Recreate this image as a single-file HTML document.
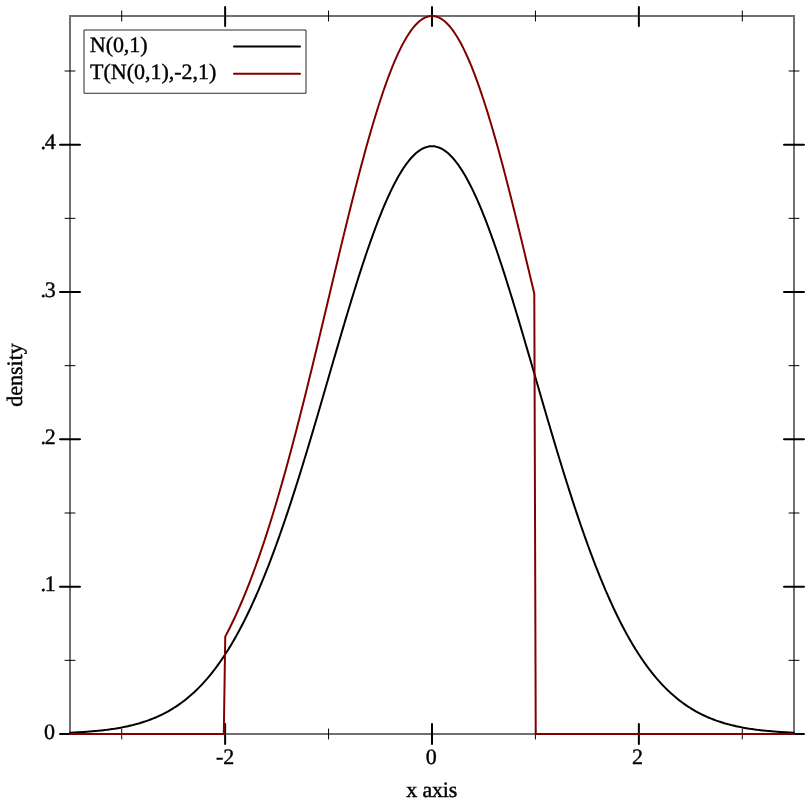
<!DOCTYPE html>
<html><head><meta charset="utf-8"><title>plot</title>
<style>html,body{margin:0;padding:0;background:#fff}svg{display:block}text{font-family:"Liberation Serif","Times New Roman",Times,serif;font-size:22px;fill:#000;text-rendering:geometricPrecision;stroke:#000;stroke-width:0.4px}</style></head><body>
<svg width="812" height="812" viewBox="0 0 812 812">
<rect width="812" height="812" fill="#fff"/>
<defs><clipPath id="c"><rect x="69" y="14" width="726.2" height="721.2"/></clipPath></defs>
<rect x="70" y="16" width="724" height="718" fill="none" stroke="#707070" stroke-width="2"/>
<path d="M225.14 7.00V26.00M225.14 724.00V744.00M432.00 7.00V26.00M432.00 724.00V744.00M638.86 7.00V26.00M638.86 724.00V744.00M60.00 734.00H80.00M784.00 734.00H804.00M60.00 586.67H80.00M784.00 586.67H804.00M60.00 439.34H80.00M784.00 439.34H804.00M60.00 292.01H80.00M784.00 292.01H804.00M60.00 144.68H80.00M784.00 144.68H804.00" stroke="#000" stroke-width="2" stroke-linecap="round" fill="none"/>
<path d="M121.71 11.00V21.00M121.71 729.00V739.00M328.57 11.00V21.00M328.57 729.00V739.00M535.43 11.00V21.00M535.43 729.00V739.00M742.29 11.00V21.00M742.29 729.00V739.00M65.00 660.33H75.00M789.00 660.33H799.00M65.00 513.00H75.00M789.00 513.00H799.00M65.00 365.67H75.00M789.00 365.67H799.00M65.00 218.34H75.00M789.00 218.34H799.00M65.00 71.01H75.00M789.00 71.01H799.00" stroke="#000" stroke-width="1" stroke-linecap="round" fill="none"/>
<text x="225.14" y="763.7" text-anchor="middle">-2</text>
<text x="431.30" y="763.7" text-anchor="middle">0</text>
<text x="637.46" y="763.7" text-anchor="middle">2</text>
<text x="54.9" y="738.50" text-anchor="end">0</text>
<text x="55.8" y="591.17" text-anchor="end" textLength="15.2" lengthAdjust="spacing">.1</text>
<text x="55.8" y="443.84" text-anchor="end" textLength="15.2" lengthAdjust="spacing">.2</text>
<text x="55.8" y="296.51" text-anchor="end" textLength="15.2" lengthAdjust="spacing">.3</text>
<text x="55.8" y="149.18" text-anchor="end" textLength="15.2" lengthAdjust="spacing">.4</text>
<text x="431.8" y="796.5" text-anchor="middle" textLength="51.2" lengthAdjust="spacing">x axis</text>
<text transform="translate(22.4 375) rotate(-90)" text-anchor="middle">density</text>
<g clip-path="url(#c)" fill="none" stroke-width="2" stroke-linejoin="round" stroke-linecap="round">
<path d="M70.00 732.71 L71.45 732.65 L72.90 732.58 L74.35 732.51 L75.80 732.44 L77.25 732.36 L78.71 732.28 L80.16 732.20 L81.61 732.11 L83.06 732.02 L84.51 731.92 L85.96 731.82 L87.41 731.72 L88.86 731.61 L90.31 731.49 L91.76 731.37 L93.21 731.25 L94.67 731.12 L96.12 730.99 L97.57 730.85 L99.02 730.70 L100.47 730.55 L101.92 730.39 L103.37 730.22 L104.82 730.05 L106.27 729.87 L107.72 729.69 L109.17 729.49 L110.63 729.29 L112.08 729.08 L113.53 728.87 L114.98 728.64 L116.43 728.41 L117.88 728.16 L119.33 727.91 L120.78 727.65 L122.23 727.37 L123.68 727.09 L125.13 726.79 L126.59 726.49 L128.04 726.17 L129.49 725.84 L130.94 725.50 L132.39 725.15 L133.84 724.78 L135.29 724.40 L136.74 724.01 L138.19 723.60 L139.64 723.18 L141.09 722.74 L142.55 722.29 L144.00 721.82 L145.45 721.34 L146.90 720.84 L148.35 720.32 L149.80 719.79 L151.25 719.23 L152.70 718.66 L154.15 718.07 L155.60 717.46 L157.05 716.83 L158.51 716.18 L159.96 715.51 L161.41 714.82 L162.86 714.10 L164.31 713.36 L165.76 712.60 L167.21 711.82 L168.66 711.01 L170.11 710.18 L171.56 709.32 L173.01 708.43 L174.46 707.52 L175.92 706.58 L177.37 705.62 L178.82 704.62 L180.27 703.60 L181.72 702.55 L183.17 701.46 L184.62 700.35 L186.07 699.21 L187.52 698.03 L188.97 696.82 L190.42 695.58 L191.88 694.30 L193.33 692.99 L194.78 691.65 L196.23 690.27 L197.68 688.85 L199.13 687.40 L200.58 685.90 L202.03 684.38 L203.48 682.81 L204.93 681.20 L206.38 679.56 L207.84 677.87 L209.29 676.14 L210.74 674.38 L212.19 672.56 L213.64 670.71 L215.09 668.82 L216.54 666.88 L217.99 664.89 L219.44 662.86 L220.89 660.79 L222.34 658.67 L223.80 656.51 L225.25 654.30 L226.70 652.04 L228.15 649.73 L229.60 647.38 L231.05 644.97 L232.50 642.52 L233.95 640.02 L235.40 637.47 L236.85 634.88 L238.30 632.23 L239.76 629.53 L241.21 626.78 L242.66 623.98 L244.11 621.13 L245.56 618.23 L247.01 615.27 L248.46 612.27 L249.91 609.21 L251.36 606.11 L252.81 602.95 L254.26 599.74 L255.72 596.47 L257.17 593.16 L258.62 589.79 L260.07 586.38 L261.52 582.91 L262.97 579.39 L264.42 575.82 L265.87 572.20 L267.32 568.53 L268.77 564.81 L270.22 561.04 L271.68 557.22 L273.13 553.35 L274.58 549.43 L276.03 545.47 L277.48 541.46 L278.93 537.40 L280.38 533.29 L281.83 529.14 L283.28 524.95 L284.73 520.71 L286.18 516.43 L287.64 512.10 L289.09 507.74 L290.54 503.33 L291.99 498.89 L293.44 494.40 L294.89 489.88 L296.34 485.32 L297.79 480.73 L299.24 476.10 L300.69 471.44 L302.14 466.75 L303.60 462.03 L305.05 457.28 L306.50 452.50 L307.95 447.70 L309.40 442.87 L310.85 438.02 L312.30 433.14 L313.75 428.25 L315.20 423.33 L316.65 418.41 L318.10 413.46 L319.56 408.50 L321.01 403.53 L322.46 398.55 L323.91 393.57 L325.36 388.57 L326.81 383.57 L328.26 378.57 L329.71 373.57 L331.16 368.57 L332.61 363.58 L334.06 358.59 L335.52 353.61 L336.97 348.63 L338.42 343.67 L339.87 338.72 L341.32 333.79 L342.77 328.88 L344.22 323.99 L345.67 319.12 L347.12 314.27 L348.57 309.46 L350.02 304.67 L351.47 299.91 L352.93 295.19 L354.38 290.50 L355.83 285.85 L357.28 281.24 L358.73 276.67 L360.18 272.15 L361.63 267.68 L363.08 263.25 L364.53 258.88 L365.98 254.55 L367.43 250.29 L368.89 246.08 L370.34 241.94 L371.79 237.85 L373.24 233.83 L374.69 229.88 L376.14 226.00 L377.59 222.19 L379.04 218.45 L380.49 214.78 L381.94 211.19 L383.39 207.68 L384.85 204.25 L386.30 200.91 L387.75 197.64 L389.20 194.47 L390.65 191.38 L392.10 188.38 L393.55 185.48 L395.00 182.66 L396.45 179.94 L397.90 177.32 L399.35 174.79 L400.81 172.37 L402.26 170.04 L403.71 167.82 L405.16 165.70 L406.61 163.68 L408.06 161.77 L409.51 159.97 L410.96 158.27 L412.41 156.68 L413.86 155.20 L415.31 153.83 L416.77 152.58 L418.22 151.43 L419.67 150.40 L421.12 149.48 L422.57 148.67 L424.02 147.98 L425.47 147.40 L426.92 146.94 L428.37 146.60 L429.82 146.36 L431.27 146.25 L432.73 146.25 L434.18 146.36 L435.63 146.60 L437.08 146.94 L438.53 147.40 L439.98 147.98 L441.43 148.67 L442.88 149.48 L444.33 150.40 L445.78 151.43 L447.23 152.58 L448.69 153.83 L450.14 155.20 L451.59 156.68 L453.04 158.27 L454.49 159.97 L455.94 161.77 L457.39 163.68 L458.84 165.70 L460.29 167.82 L461.74 170.04 L463.19 172.37 L464.65 174.79 L466.10 177.32 L467.55 179.94 L469.00 182.66 L470.45 185.48 L471.90 188.38 L473.35 191.38 L474.80 194.47 L476.25 197.64 L477.70 200.91 L479.15 204.25 L480.61 207.68 L482.06 211.19 L483.51 214.78 L484.96 218.45 L486.41 222.19 L487.86 226.00 L489.31 229.88 L490.76 233.83 L492.21 237.85 L493.66 241.94 L495.11 246.08 L496.57 250.29 L498.02 254.55 L499.47 258.88 L500.92 263.25 L502.37 267.68 L503.82 272.15 L505.27 276.67 L506.72 281.24 L508.17 285.85 L509.62 290.50 L511.07 295.19 L512.53 299.91 L513.98 304.67 L515.43 309.46 L516.88 314.27 L518.33 319.12 L519.78 323.99 L521.23 328.88 L522.68 333.79 L524.13 338.72 L525.58 343.67 L527.03 348.63 L528.48 353.61 L529.94 358.59 L531.39 363.58 L532.84 368.57 L534.29 373.57 L535.74 378.57 L537.19 383.57 L538.64 388.57 L540.09 393.57 L541.54 398.55 L542.99 403.53 L544.44 408.50 L545.90 413.46 L547.35 418.41 L548.80 423.33 L550.25 428.25 L551.70 433.14 L553.15 438.02 L554.60 442.87 L556.05 447.70 L557.50 452.50 L558.95 457.28 L560.40 462.03 L561.86 466.75 L563.31 471.44 L564.76 476.10 L566.21 480.73 L567.66 485.32 L569.11 489.88 L570.56 494.40 L572.01 498.89 L573.46 503.33 L574.91 507.74 L576.36 512.10 L577.82 516.43 L579.27 520.71 L580.72 524.95 L582.17 529.14 L583.62 533.29 L585.07 537.40 L586.52 541.46 L587.97 545.47 L589.42 549.43 L590.87 553.35 L592.32 557.22 L593.78 561.04 L595.23 564.81 L596.68 568.53 L598.13 572.20 L599.58 575.82 L601.03 579.39 L602.48 582.91 L603.93 586.38 L605.38 589.79 L606.83 593.16 L608.28 596.47 L609.74 599.74 L611.19 602.95 L612.64 606.11 L614.09 609.21 L615.54 612.27 L616.99 615.27 L618.44 618.23 L619.89 621.13 L621.34 623.98 L622.79 626.78 L624.24 629.53 L625.70 632.23 L627.15 634.88 L628.60 637.47 L630.05 640.02 L631.50 642.52 L632.95 644.97 L634.40 647.38 L635.85 649.73 L637.30 652.04 L638.75 654.30 L640.20 656.51 L641.66 658.67 L643.11 660.79 L644.56 662.86 L646.01 664.89 L647.46 666.88 L648.91 668.82 L650.36 670.71 L651.81 672.56 L653.26 674.38 L654.71 676.14 L656.16 677.87 L657.62 679.56 L659.07 681.20 L660.52 682.81 L661.97 684.38 L663.42 685.90 L664.87 687.40 L666.32 688.85 L667.77 690.27 L669.22 691.65 L670.67 692.99 L672.12 694.30 L673.58 695.58 L675.03 696.82 L676.48 698.03 L677.93 699.21 L679.38 700.35 L680.83 701.46 L682.28 702.55 L683.73 703.60 L685.18 704.62 L686.63 705.62 L688.08 706.58 L689.54 707.52 L690.99 708.43 L692.44 709.32 L693.89 710.18 L695.34 711.01 L696.79 711.82 L698.24 712.60 L699.69 713.36 L701.14 714.10 L702.59 714.82 L704.04 715.51 L705.49 716.18 L706.95 716.83 L708.40 717.46 L709.85 718.07 L711.30 718.66 L712.75 719.23 L714.20 719.79 L715.65 720.32 L717.10 720.84 L718.55 721.34 L720.00 721.82 L721.45 722.29 L722.91 722.74 L724.36 723.18 L725.81 723.60 L727.26 724.01 L728.71 724.40 L730.16 724.78 L731.61 725.15 L733.06 725.50 L734.51 725.84 L735.96 726.17 L737.41 726.49 L738.87 726.79 L740.32 727.09 L741.77 727.37 L743.22 727.65 L744.67 727.91 L746.12 728.16 L747.57 728.41 L749.02 728.64 L750.47 728.87 L751.92 729.08 L753.37 729.29 L754.83 729.49 L756.28 729.69 L757.73 729.87 L759.18 730.05 L760.63 730.22 L762.08 730.39 L763.53 730.55 L764.98 730.70 L766.43 730.85 L767.88 730.99 L769.33 731.12 L770.79 731.25 L772.24 731.37 L773.69 731.49 L775.14 731.61 L776.59 731.72 L778.04 731.82 L779.49 731.92 L780.94 732.02 L782.39 732.11 L783.84 732.20 L785.29 732.28 L786.75 732.36 L788.20 732.44 L789.65 732.51 L791.10 732.58 L792.55 732.65 L794.00 732.71" stroke="#000"/>
<path d="M70.00 734.00 L71.45 734.00 L72.90 734.00 L74.35 734.00 L75.80 734.00 L77.25 734.00 L78.71 734.00 L80.16 734.00 L81.61 734.00 L83.06 734.00 L84.51 734.00 L85.96 734.00 L87.41 734.00 L88.86 734.00 L90.31 734.00 L91.76 734.00 L93.21 734.00 L94.67 734.00 L96.12 734.00 L97.57 734.00 L99.02 734.00 L100.47 734.00 L101.92 734.00 L103.37 734.00 L104.82 734.00 L106.27 734.00 L107.72 734.00 L109.17 734.00 L110.63 734.00 L112.08 734.00 L113.53 734.00 L114.98 734.00 L116.43 734.00 L117.88 734.00 L119.33 734.00 L120.78 734.00 L122.23 734.00 L123.68 734.00 L125.13 734.00 L126.59 734.00 L128.04 734.00 L129.49 734.00 L130.94 734.00 L132.39 734.00 L133.84 734.00 L135.29 734.00 L136.74 734.00 L138.19 734.00 L139.64 734.00 L141.09 734.00 L142.55 734.00 L144.00 734.00 L145.45 734.00 L146.90 734.00 L148.35 734.00 L149.80 734.00 L151.25 734.00 L152.70 734.00 L154.15 734.00 L155.60 734.00 L157.05 734.00 L158.51 734.00 L159.96 734.00 L161.41 734.00 L162.86 734.00 L164.31 734.00 L165.76 734.00 L167.21 734.00 L168.66 734.00 L170.11 734.00 L171.56 734.00 L173.01 734.00 L174.46 734.00 L175.92 734.00 L177.37 734.00 L178.82 734.00 L180.27 734.00 L181.72 734.00 L183.17 734.00 L184.62 734.00 L186.07 734.00 L187.52 734.00 L188.97 734.00 L190.42 734.00 L191.88 734.00 L193.33 734.00 L194.78 734.00 L196.23 734.00 L197.68 734.00 L199.13 734.00 L200.58 734.00 L202.03 734.00 L203.48 734.00 L204.93 734.00 L206.38 734.00 L207.84 734.00 L209.29 734.00 L210.74 734.00 L212.19 734.00 L213.64 734.00 L215.09 734.00 L216.54 734.00 L217.99 734.00 L219.44 734.00 L220.89 734.00 L222.34 734.00 L223.80 734.00 L225.25 636.63 L226.70 633.87 L228.15 631.06 L229.60 628.18 L231.05 625.25 L232.50 622.25 L233.95 619.20 L235.40 616.08 L236.85 612.91 L238.30 609.67 L239.76 606.38 L241.21 603.02 L242.66 599.60 L244.11 596.12 L245.56 592.57 L247.01 588.96 L248.46 585.29 L249.91 581.56 L251.36 577.76 L252.81 573.90 L254.26 569.98 L255.72 566.00 L257.17 561.95 L258.62 557.84 L260.07 553.66 L261.52 549.43 L262.97 545.13 L264.42 540.77 L265.87 536.34 L267.32 531.86 L268.77 527.31 L270.22 522.71 L271.68 518.04 L273.13 513.32 L274.58 508.53 L276.03 503.69 L277.48 498.79 L278.93 493.83 L280.38 488.81 L281.83 483.74 L283.28 478.62 L284.73 473.44 L286.18 468.21 L287.64 462.93 L289.09 457.60 L290.54 452.22 L291.99 446.78 L293.44 441.31 L294.89 435.78 L296.34 430.22 L297.79 424.61 L299.24 418.95 L300.69 413.26 L302.14 407.53 L303.60 401.76 L305.05 395.96 L306.50 390.12 L307.95 384.25 L309.40 378.35 L310.85 372.42 L312.30 366.47 L313.75 360.49 L315.20 354.49 L316.65 348.47 L318.10 342.43 L319.56 336.37 L321.01 330.30 L322.46 324.22 L323.91 318.12 L325.36 312.02 L326.81 305.92 L328.26 299.81 L329.71 293.70 L331.16 287.59 L332.61 281.49 L334.06 275.39 L335.52 269.31 L336.97 263.23 L338.42 257.17 L339.87 251.13 L341.32 245.11 L342.77 239.10 L344.22 233.13 L345.67 227.18 L347.12 221.26 L348.57 215.37 L350.02 209.52 L351.47 203.71 L352.93 197.94 L354.38 192.22 L355.83 186.54 L357.28 180.90 L358.73 175.33 L360.18 169.80 L361.63 164.33 L363.08 158.93 L364.53 153.58 L365.98 148.31 L367.43 143.10 L368.89 137.96 L370.34 132.89 L371.79 127.91 L373.24 123.00 L374.69 118.17 L376.14 113.42 L377.59 108.76 L379.04 104.20 L380.49 99.72 L381.94 95.33 L383.39 91.05 L384.85 86.86 L386.30 82.77 L387.75 78.78 L389.20 74.91 L390.65 71.13 L392.10 67.47 L393.55 63.92 L395.00 60.48 L396.45 57.16 L397.90 53.96 L399.35 50.87 L400.81 47.91 L402.26 45.07 L403.71 42.35 L405.16 39.76 L406.61 37.30 L408.06 34.96 L409.51 32.76 L410.96 30.68 L412.41 28.74 L413.86 26.94 L415.31 25.27 L416.77 23.73 L418.22 22.33 L419.67 21.07 L421.12 19.95 L422.57 18.96 L424.02 18.12 L425.47 17.41 L426.92 16.85 L428.37 16.42 L429.82 16.14 L431.27 16.00 L432.73 16.00 L434.18 16.14 L435.63 16.42 L437.08 16.85 L438.53 17.41 L439.98 18.12 L441.43 18.96 L442.88 19.95 L444.33 21.07 L445.78 22.33 L447.23 23.73 L448.69 25.27 L450.14 26.94 L451.59 28.74 L453.04 30.68 L454.49 32.76 L455.94 34.96 L457.39 37.30 L458.84 39.76 L460.29 42.35 L461.74 45.07 L463.19 47.91 L464.65 50.87 L466.10 53.96 L467.55 57.16 L469.00 60.48 L470.45 63.92 L471.90 67.47 L473.35 71.13 L474.80 74.91 L476.25 78.78 L477.70 82.77 L479.15 86.86 L480.61 91.05 L482.06 95.33 L483.51 99.72 L484.96 104.20 L486.41 108.76 L487.86 113.42 L489.31 118.17 L490.76 123.00 L492.21 127.91 L493.66 132.89 L495.11 137.96 L496.57 143.10 L498.02 148.31 L499.47 153.58 L500.92 158.93 L502.37 164.33 L503.82 169.80 L505.27 175.33 L506.72 180.90 L508.17 186.54 L509.62 192.22 L511.07 197.94 L512.53 203.71 L513.98 209.52 L515.43 215.37 L516.88 221.26 L518.33 227.18 L519.78 233.13 L521.23 239.10 L522.68 245.11 L524.13 251.13 L525.58 257.17 L527.03 263.23 L528.48 269.31 L529.94 275.39 L531.39 281.49 L532.84 287.59 L534.29 293.70 L535.74 734.00 L537.19 734.00 L538.64 734.00 L540.09 734.00 L541.54 734.00 L542.99 734.00 L544.44 734.00 L545.90 734.00 L547.35 734.00 L548.80 734.00 L550.25 734.00 L551.70 734.00 L553.15 734.00 L554.60 734.00 L556.05 734.00 L557.50 734.00 L558.95 734.00 L560.40 734.00 L561.86 734.00 L563.31 734.00 L564.76 734.00 L566.21 734.00 L567.66 734.00 L569.11 734.00 L570.56 734.00 L572.01 734.00 L573.46 734.00 L574.91 734.00 L576.36 734.00 L577.82 734.00 L579.27 734.00 L580.72 734.00 L582.17 734.00 L583.62 734.00 L585.07 734.00 L586.52 734.00 L587.97 734.00 L589.42 734.00 L590.87 734.00 L592.32 734.00 L593.78 734.00 L595.23 734.00 L596.68 734.00 L598.13 734.00 L599.58 734.00 L601.03 734.00 L602.48 734.00 L603.93 734.00 L605.38 734.00 L606.83 734.00 L608.28 734.00 L609.74 734.00 L611.19 734.00 L612.64 734.00 L614.09 734.00 L615.54 734.00 L616.99 734.00 L618.44 734.00 L619.89 734.00 L621.34 734.00 L622.79 734.00 L624.24 734.00 L625.70 734.00 L627.15 734.00 L628.60 734.00 L630.05 734.00 L631.50 734.00 L632.95 734.00 L634.40 734.00 L635.85 734.00 L637.30 734.00 L638.75 734.00 L640.20 734.00 L641.66 734.00 L643.11 734.00 L644.56 734.00 L646.01 734.00 L647.46 734.00 L648.91 734.00 L650.36 734.00 L651.81 734.00 L653.26 734.00 L654.71 734.00 L656.16 734.00 L657.62 734.00 L659.07 734.00 L660.52 734.00 L661.97 734.00 L663.42 734.00 L664.87 734.00 L666.32 734.00 L667.77 734.00 L669.22 734.00 L670.67 734.00 L672.12 734.00 L673.58 734.00 L675.03 734.00 L676.48 734.00 L677.93 734.00 L679.38 734.00 L680.83 734.00 L682.28 734.00 L683.73 734.00 L685.18 734.00 L686.63 734.00 L688.08 734.00 L689.54 734.00 L690.99 734.00 L692.44 734.00 L693.89 734.00 L695.34 734.00 L696.79 734.00 L698.24 734.00 L699.69 734.00 L701.14 734.00 L702.59 734.00 L704.04 734.00 L705.49 734.00 L706.95 734.00 L708.40 734.00 L709.85 734.00 L711.30 734.00 L712.75 734.00 L714.20 734.00 L715.65 734.00 L717.10 734.00 L718.55 734.00 L720.00 734.00 L721.45 734.00 L722.91 734.00 L724.36 734.00 L725.81 734.00 L727.26 734.00 L728.71 734.00 L730.16 734.00 L731.61 734.00 L733.06 734.00 L734.51 734.00 L735.96 734.00 L737.41 734.00 L738.87 734.00 L740.32 734.00 L741.77 734.00 L743.22 734.00 L744.67 734.00 L746.12 734.00 L747.57 734.00 L749.02 734.00 L750.47 734.00 L751.92 734.00 L753.37 734.00 L754.83 734.00 L756.28 734.00 L757.73 734.00 L759.18 734.00 L760.63 734.00 L762.08 734.00 L763.53 734.00 L764.98 734.00 L766.43 734.00 L767.88 734.00 L769.33 734.00 L770.79 734.00 L772.24 734.00 L773.69 734.00 L775.14 734.00 L776.59 734.00 L778.04 734.00 L779.49 734.00 L780.94 734.00 L782.39 734.00 L783.84 734.00 L785.29 734.00 L786.75 734.00 L788.20 734.00 L789.65 734.00 L791.10 734.00 L792.55 734.00 L794.00 734.00" stroke="#800000"/>
</g>
<rect x="84" y="30" width="222" height="63.25" fill="#fff" stroke="#000" stroke-opacity="0.83" stroke-width="1" stroke-linejoin="round"/>
<text x="89.8" y="51.7" textLength="57.8" lengthAdjust="spacing">N(0,1)</text>
<text x="90" y="78.8" textLength="126.3" lengthAdjust="spacing">T(N(0,1),-2,1)</text>
<path d="M234 46.4H300" stroke="#000" stroke-width="2" stroke-linecap="round"/>
<path d="M234 73.7H300" stroke="#800000" stroke-width="2" stroke-linecap="round"/>
</svg></body></html>
